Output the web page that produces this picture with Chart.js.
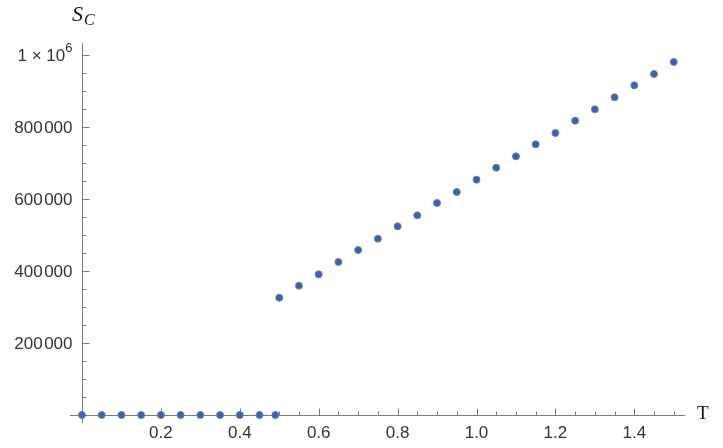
<!DOCTYPE html>
<html>
<head>
<meta charset="utf-8">
<script src="https://cdn.jsdelivr.net/npm/chart.js@4"></script>
<style>
  html, body { margin: 0; padding: 0; background: #fff; }
  canvas { display: block; }
</style>
</head>
<body>
<canvas id="chart" width="723" height="448"></canvas>
<script>
// temperature values (x) and S_C values (y)
const tValues = [0, 0.05, 0.1, 0.15, 0.2, 0.25, 0.3, 0.35, 0.4, 0.45, 0.49,
  0.5, 0.55, 0.6, 0.65, 0.7, 0.75, 0.8, 0.85, 0.9, 0.95, 1.0,
  1.05, 1.1, 1.15, 1.2, 1.25, 1.3, 1.35, 1.4, 1.45, 1.5];
const scValues = [0, 0, 0, 0, 0, 0, 0, 0, 0, 0, 0,
  325800, 359200, 390700, 425000, 458300, 489800, 524000, 554600, 588900, 619400, 653700,
  687000, 718500, 751900, 783300, 817600, 849100, 882400, 915700, 947200, 980600];

// tick labels
const xTicks = [0.2, 0.4, 0.6, 0.8, 1.0, 1.2, 1.4];
const xTickLabels = ["0.2", "0.4", "0.6", "0.8", "1.0", "1.2", "1.4"];
const yTicks = [200000, 400000, 600000, 800000, 1000000];
const yTickLabels = ["200\u200a000", "400\u200a000", "600\u200a000", "800\u200a000", "1 \u00d7 10^6"];

const axisColor = "#7a7a7a";
const labelColor = "#333333";
const labelFont = "17px 'Liberation Sans', Arial, sans-serif";

// Mathematica style axes crossing at the origin, ticks pointing inward
const axesPlugin = {
  id: "axes",
  beforeDatasetsDraw(chart) {
    const ctx = chart.ctx;
    const area = chart.chartArea;
    const xs = chart.scales.x, ys = chart.scales.y;
    const x0 = Math.round(xs.getPixelForValue(0)) + 0.5;
    const y0 = Math.round(ys.getPixelForValue(0)) + 0.5;
    ctx.save();
    ctx.strokeStyle = axisColor;
    ctx.lineWidth = 1;
    ctx.beginPath();
    ctx.moveTo(area.left, y0); ctx.lineTo(area.right, y0);
    ctx.moveTo(x0, area.top); ctx.lineTo(x0, area.bottom);

    // x ticks every 0.05, major every 0.2
    for (let i = 1; i <= 30; i++) {
      const px = Math.round(xs.getPixelForValue(i * 0.05)) + 0.5;
      const len = i % 4 === 0 ? 7 : 4;
      ctx.moveTo(px, y0); ctx.lineTo(px, y0 - len);
    }
    // y ticks every 50000, major every 200000
    for (let i = 1; i <= 20; i++) {
      const py = Math.round(ys.getPixelForValue(i * 50000)) + 0.5;
      const len = i % 4 === 0 ? 7 : 4;
      ctx.moveTo(x0, py); ctx.lineTo(x0 + len, py);
    }
    ctx.stroke();

    ctx.fillStyle = labelColor;
    ctx.font = labelFont;
    ctx.textAlign = "center";
    ctx.textBaseline = "top";
    xTicks.forEach((v, i) => {
      ctx.fillText(xTickLabels[i], xs.getPixelForValue(v), y0 + 9);
    });

    ctx.textBaseline = "middle";
    yTicks.forEach((v, i) => {
      const py = ys.getPixelForValue(v);
      const lab = yTickLabels[i];
      const right = x0 - 10;
      if (lab.includes("^")) {
        const [base, sup] = lab.split("^");
        ctx.font = "13px 'Liberation Sans', Arial, sans-serif";
        const sw = ctx.measureText(sup).width;
        ctx.textAlign = "left";
        ctx.fillText(sup, right - sw, py - 7);
        ctx.font = labelFont;
        ctx.textAlign = "right";
        ctx.fillText(base, right - sw, py + 1);
      } else {
        ctx.textAlign = "right";
        ctx.fillText(lab, right, py + 1);
      }
    });

    // axis titles
    ctx.textAlign = "left";
    ctx.textBaseline = "alphabetic";
    ctx.fillStyle = "#111";
    ctx.font = "italic 22px 'Liberation Serif', 'Times New Roman', serif";
    ctx.fillText("S", 72, 21);
    ctx.font = "italic 16px 'Liberation Serif', 'Times New Roman', serif";
    ctx.fillText("C", 84, 25);
    ctx.font = "19px 'Liberation Serif', 'Times New Roman', serif";
    ctx.fillText("T", 697, 419);
    ctx.restore();
  }
};

new Chart(document.getElementById("chart"), {
  type: "scatter",
  plugins: [axesPlugin],
  data: {
    datasets: [{
      data: tValues.map((t, i) => ({ x: t, y: scValues[i] })),
      backgroundColor: "#41629d",
      borderColor: "#6382b8",
      borderWidth: 1,
      pointRadius: 3.5,
      clip: false
    }]
  },
  options: {
    responsive: false,
    animation: false,
    events: [],
    layout: { padding: { left: 70, right: 38, top: 43, bottom: 25 } },
    scales: {
      x: { type: "linear", display: false, min: -0.0304, max: 1.5285 },
      y: { type: "linear", display: false, min: -22222, max: 1033333 }
    },
    plugins: {
      legend: { display: false },
      tooltip: { enabled: false }
    }
  }
});
</script>
</body>
</html>
